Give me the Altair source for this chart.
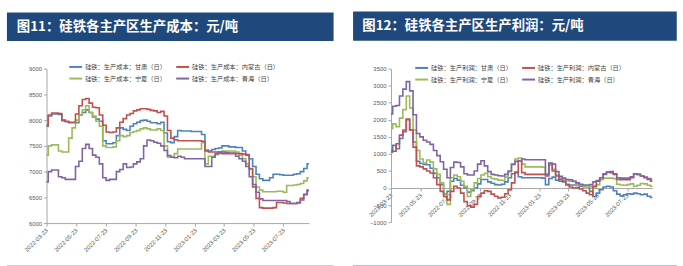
import altair as alt
import pandas as pd

# ---------------- data ----------------
start_date = "2022-03-23"
n_points = 78
dates = pd.date_range(start_date, periods=n_points, freq="7D").strftime("%Y-%m-%d").tolist()

tick_dates = ["2022-03-23", "2022-05-23", "2022-07-23", "2022-09-23", "2022-11-23",
              "2023-01-23", "2023-03-23", "2023-05-23", "2023-07-23"]

# legend is filled column by column: (甘肃, 宁夏) in column 1, (内蒙古, 青海) in column 2
regions = ["甘肃", "宁夏", "内蒙古", "青海"]
colors = ["#4F81BD", "#9BBB59", "#C0504D", "#8064A2"]

cost_gansu = [7880, 8080, 8120, 8120, 8110, 7990, 7970, 7950, 7950, 7950,
              8100, 8150, 8200, 8150, 8060, 8020, 7980, 7600, 7540, 7540,
              7560, 7700, 7850, 7820, 7800, 7880, 7930, 7960, 7990, 8000,
              7980, 7950, 7950, 7930, 7960, 7750, 7580, 7560, 7680, 7800,
              7790, 7790, 7790, 7780, 7780, 7780, 7720, 7420, 7400, 7430,
              7450, 7460, 7500, 7500, 7480, 7480, 7470, 7470, 7400, 7330,
              7250, 7100, 6950, 6860, 6830, 6830, 6880, 6950, 6950, 6940,
              6930, 6930, 6930, 6950, 6960, 7000, 7060, 7150]
cost_neimenggu = [7900, 8100, 8140, 8140, 8130, 8000, 7980, 7960, 7960, 8120,
                  8280, 8400, 8420, 8330, 8250, 8240, 8100, 7900, 7770, 7760,
                  7770, 7850, 7960, 8030, 8100, 8130, 8180, 8200, 8220, 8220,
                  8210, 8190, 8180, 8150, 8170, 8080, 7800, 7650, 7620, 7600,
                  7600, 7600, 7600, 7600, 7600, 7600, 7590, 7400, 7380, 7380,
                  7380, 7360, 7350, 7350, 7350, 7350, 7350, 7350, 7340, 7320,
                  7050, 6700, 6480, 6300, 6290, 6290, 6290, 6300, 6400, 6400,
                  6390, 6380, 6380, 6380, 6400, 6480, 6560, 6630]
cost_ningxia = [7320, 7500, 7520, 7520, 7400, 7380, 7380, 7650, 7850, 8000,
                8100, 8200, 8280, 8150, 8080, 7980, 7880, 7500, 7470, 7470,
                7480, 7600, 7700, 7680, 7700, 7760, 7780, 7800, 7830, 7850,
                7830, 7810, 7810, 7830, 7800, 7500, 7280, 7280, 7350, 7440,
                7440, 7440, 7440, 7440, 7440, 7440, 7560, 7150, 7300, 7300,
                7330, 7380, 7400, 7400, 7400, 7400, 7380, 7320, 7250, 7150,
                7060, 6900, 6700, 6640, 6610, 6610, 6610, 6610, 6620, 6620,
                6600, 6730, 6730, 6740, 6750, 6770, 6820, 6880]
cost_qinghai = [6800, 7000, 7030, 7030, 6900, 6880, 6850, 6850, 6850, 7100,
                7200, 7450, 7530, 7450, 7320, 7280, 7150, 6880, 6830, 6850,
                6850, 7000, 7040, 7150, 7080, 7090, 7150, 7190, 7250, 7500,
                7615, 7600, 7570, 7550, 7500, 7410, 7310, 7280, 7270, 7300,
                7280, 7250, 7250, 7250, 7250, 7250, 7250, 7100, 7100, 7280,
                7350, 7380, 7380, 7370, 7360, 7360, 7300, 7250, 7200, 7100,
                6900, 6750, 6600, 6470, 6440, 6440, 6440, 6440, 6440, 6440,
                6440, 6420, 6380, 6380, 6390, 6450, 6550, 6640]

profit_gansu = [1050, 1250, 1150, 1450, 1650, 2000, 1700, 1350, 780, 720,
                690, 680, 580, 430, 300, 100, -180, -100, 200, 280,
                230, 80, 0, -120, -80, 0, 120, 250, 250, 180,
                140, 100, 90, 110, 180, 300, 420, 470, 330, 300,
                300, 300, 300, 300, 300, 290, 100, 280, 320, 230,
                200, 180, 100, 90, 90, 90, 50, 40, 40, -100,
                -250, -150, -50, 30, 50, 30, -80, -180, -230, -200,
                -170, -180, -150, -170, -200, -180, -240, -280]
profit_neimenggu = [1100, 1080, 1300, 1550, 1700, 2020, 1700, 1200, 650, 620,
                    560, 500, 440, 300, 100, -100, -250, -350, -100, 50,
                    0, -150, -400, -520, -560, -480, -250, -150, -80, -100,
                    -180, -240, -290, -270, -170, -50, 150, 450, 800, 450,
                    400, 400, 400, 400, 400, 400, 350, 720, 500, 350,
                    250, 200, 100, 30, 0, 10, -30, -80, -150, -200,
                    50, 200, 300, 420, 460, 450, 400, 250, 240, 240,
                    240, 300, 420, 400, 350, 300, 250, 200]
profit_ningxia = [1740, 1880, 1800, 2050, 2300, 2700, 2350, 1700, 1100, 850,
                  730, 820, 760, 560, 400, 150, -200, -480, 300, 380,
                  330, 200, 50, -250, -50, 150, 280, 380, 430, 330,
                  280, 260, 230, 220, 320, 480, 680, 850, 880, 700,
                  620, 620, 620, 620, 620, 610, 400, 670, 550, 380,
                  290, 230, 220, 200, 190, 120, 80, 60, 50, 40,
                  0, 100, 240, 290, 290, 290, 270, 110, 90, 80,
                  100, 120, 50, 80, 130, 120, 80, 50]
profit_qinghai = [2170, 2400, 2420, 2700, 2900, 3120, 2850, 2150, 1600, 1500,
                  1400, 1350, 1280, 1100, 950, 770, 550, 300, 600, 760,
                  750, 620, 420, 380, 380, 500, 700, 800, 650, 480,
                  400, 380, 360, 350, 400, 500, 700, 780, 800, 850,
                  830, 830, 830, 830, 830, 830, 400, 730, 700, 480,
                  340, 290, 250, 240, 200, 150, 110, 90, 90, 100,
                  180, 220, 300, 400, 470, 480, 420, 300, 290, 290,
                  290, 330, 420, 400, 350, 320, 280, 250]

cost_ticks = [6000, 6500, 7000, 7500, 8000, 8500, 9000]
profit_ticks = [-1000, -500, 0, 500, 1000, 1500, 2000, 2500, 3000, 3500]

title_left = "图11：硅铁各主产区生产成本：元/吨"
title_right = "图12：硅铁各主产区生产利润：元/吨"
cost_prefix = "硅铁：生产成本："
profit_prefix = "硅铁：生产利润："
suffix = "（日）"


def long_frame(prefix, series_list):
    rows = []
    for reg, vals in zip(regions, series_list):
        label = prefix + reg + suffix
        for d, v in zip(dates, vals):
            rows.append({"date": d, "value": v, "series": label})
    return pd.DataFrame(rows)


cost_df = long_frame(cost_prefix, [cost_gansu, cost_ningxia, cost_neimenggu, cost_qinghai])
profit_df = long_frame(profit_prefix, [profit_gansu, profit_ningxia, profit_neimenggu, profit_qinghai])


def dt(s):
    y, m, d = [int(p) for p in s.split("-")]
    return alt.DateTime(year=y, month=m, date=d, utc=True)


x_domain = [dt(dates[0]), dt(dates[-1])]
x_ticks = [dt(s) for s in tick_dates]

NAVY = "#1F497D"
CJK = "Noto Sans CJK SC"
dummy = pd.DataFrame({"k": [0]})


def panel(df, prefix, ydomain, yticks, title, w, h, xoffset, bar, legend_xy, title_x):
    labels = [prefix + r + suffix for r in regions]
    lines = alt.Chart(df).mark_line(strokeWidth=1.6, interpolate="step").encode(
        x=alt.X("date:T",
                scale=alt.Scale(type="utc", domain=x_domain, nice=False),
                axis=alt.Axis(values=x_ticks,
                              labelExpr="utcFormat(datum.value, '%Y-%m-%d')",
                              labelAngle=315, labelAlign="right", labelBaseline="middle",
                              labelPadding=3, tickSize=3, offset=xoffset, title=None,
                              labelOverlap=False)),
        y=alt.Y("value:Q",
                scale=alt.Scale(domain=ydomain, nice=False, zero=False),
                axis=alt.Axis(values=yticks, format="d", title=None, tickSize=3, labelPadding=2)),
        color=alt.Color("series:N",
                        scale=alt.Scale(domain=labels, range=colors),
                        title=None,
                        legend=alt.Legend(orient="none", legendX=legend_xy[0], legendY=legend_xy[1],
                                          columns=2, symbolType="stroke", symbolSize=169,
                                          symbolStrokeWidth=2, labelFontSize=6.3, labelFont=CJK,
                                          labelColor="#404040", columnPadding=6, rowPadding=0,
                                          labelOffset=2, padding=0)),
        order=alt.Order("date:T"),
    )
    rect = alt.Chart(dummy).mark_rect(color=NAVY).encode(
        x=alt.value(bar[0]), x2=alt.value(bar[1]), y=alt.value(bar[2]), y2=alt.value(bar[3]))
    text = alt.Chart(dummy).mark_text(
        text=title, color="white", font=CJK, fontSize=13.5, fontWeight="bold",
        align="left", baseline="middle").encode(
        x=alt.value(title_x), y=alt.value((bar[2] + bar[3]) / 2))
    bottom = alt.Chart(dummy).mark_rule(color="#B4C0D0", strokeWidth=1.5).encode(
        x=alt.value(bar[0]), x2=alt.value(bar[1]), y=alt.value(bar[4]))
    return alt.layer(rect, text, bottom, lines).properties(width=w, height=h)


left = panel(cost_df, cost_prefix, [6000, 9000], cost_ticks, title_left, 265, 156, 0,
             (-40, 290, -56.7, -28.0, 199.3), (22, -9.5), -30)
right = panel(profit_df, profit_prefix, [-1000, 3500], profit_ticks, title_right, 264, 155, -34.4,
              (-38.3, 288.7, -57.7, -28.3, 199.0), (23.5, -8.5), -29)

chart = alt.hconcat(left, right, spacing=16).resolve_scale(
    color="independent", x="independent", y="independent"
).resolve_legend(color="independent").properties(
    padding={"left": 5, "top": 9, "right": 5, "bottom": 0},
    background="white",
).configure_view(stroke="transparent").configure_axis(
    grid=False, domainColor="#A6A6A6", tickColor="#A6A6A6", labelColor="#595959",
    labelFontSize=6, labelFont="Liberation Sans", domainWidth=1,
)

chart.save("out.html", embed_options={"renderer": "svg", "actions": False})
